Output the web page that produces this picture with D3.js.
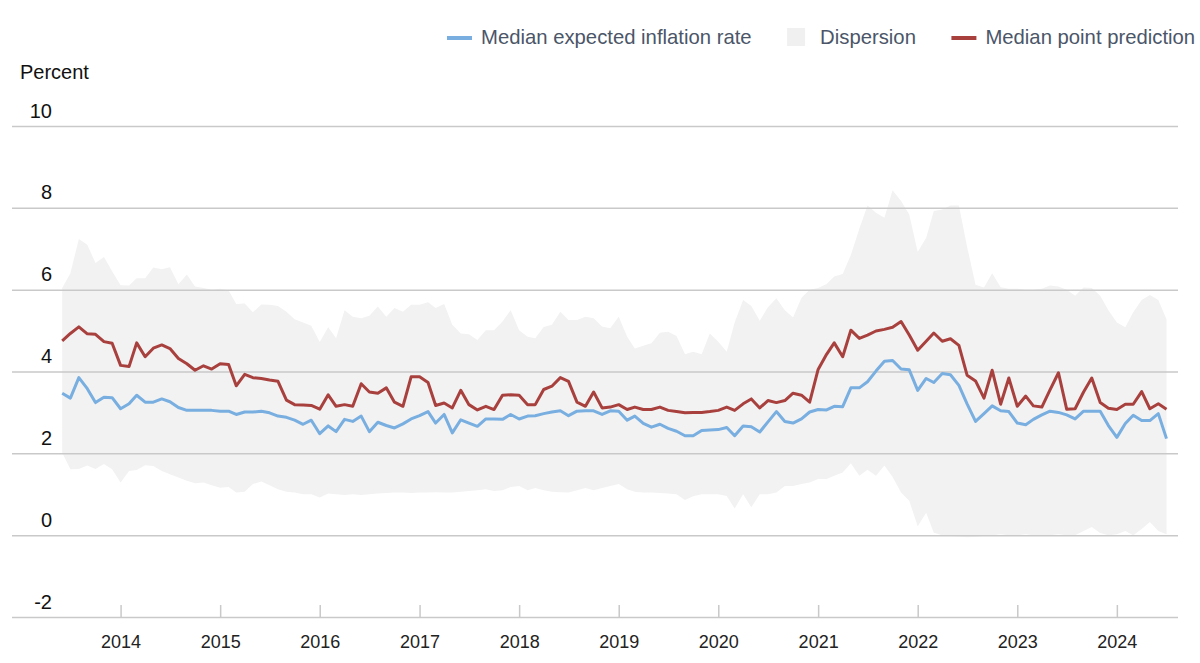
<!DOCTYPE html>
<html lang="en">
<head>
  <meta charset="UTF-8">
  <title>Median expected inflation rate and dispersion</title>
  <script src="https://d3js.org/d3.v7.min.js"></script>
  <style>
    body { margin: 0; background: #fff; }
    text { font-family: "Liberation Sans", Arial, Helvetica, sans-serif; }
  </style>
</head>
<body>
  <div id="chart"></div>
  <script>
    // Monthly observations, June 2013 to July 2024
    var firstMonth = "2013-06";
    var lastMonth = "2024-07";

    // Median expected inflation rate (blue line)
    var medianExpected = [
      3.47, 3.35, 3.85, 3.58, 3.24, 3.37, 3.36,
      3.09, 3.21, 3.42, 3.25, 3.25, 3.33, 3.26, 3.12, 3.05, 3.05, 3.05, 3.05,
      3.03, 3.03, 2.95, 3.01, 3.01, 3.03, 2.99, 2.91, 2.88, 2.81, 2.71, 2.81,
      2.48, 2.67, 2.53, 2.83, 2.78, 2.91, 2.53, 2.76, 2.68, 2.62, 2.72, 2.84,
      2.92, 3.02, 2.74, 2.95, 2.50, 2.82, 2.74, 2.66, 2.84, 2.84, 2.83, 2.95,
      2.84, 2.91, 2.92, 2.97, 3.01, 3.04, 2.92, 3.03, 3.04, 3.04, 2.95, 3.04,
      3.03, 2.81, 2.91, 2.73, 2.64, 2.71, 2.61, 2.54, 2.43, 2.43, 2.56, 2.57,
      2.58, 2.63, 2.43, 2.67, 2.65, 2.52, 2.77, 3.02, 2.78, 2.74, 2.84, 3.01,
      3.07, 3.06, 3.15, 3.14, 3.60, 3.60, 3.75, 4.01, 4.25, 4.27, 4.06, 4.04,
      3.54, 3.83, 3.73, 3.95, 3.92, 3.66, 3.21, 2.78, 2.97, 3.16, 3.04, 3.02,
      2.74, 2.70, 2.83, 2.94, 3.03, 3.00, 2.94, 2.84, 3.03, 3.03, 3.03, 2.68,
      2.39, 2.73, 2.93, 2.80, 2.80, 2.97, 2.36
    ];

    // Median point prediction (red line)
    var pointPrediction = [
      4.75, 4.93, 5.09, 4.92, 4.91, 4.73, 4.69,
      4.15, 4.12, 4.70, 4.36, 4.57, 4.65, 4.56, 4.32, 4.19, 4.03, 4.14, 4.06,
      4.19, 4.17, 3.65, 3.93, 3.85, 3.83, 3.79, 3.76, 3.30, 3.19, 3.18, 3.17,
      3.08, 3.43, 3.15, 3.19, 3.15, 3.70, 3.50, 3.47, 3.60, 3.25, 3.15, 3.87,
      3.87, 3.73, 3.17, 3.23, 3.11, 3.54, 3.19, 3.06, 3.15, 3.07, 3.42, 3.43,
      3.42, 3.19, 3.19, 3.56, 3.64, 3.85, 3.76, 3.25, 3.15, 3.50, 3.11, 3.13,
      3.19, 3.07, 3.13, 3.07, 3.07, 3.13, 3.05, 3.02, 2.99, 3.00, 3.00, 3.02,
      3.05, 3.13, 3.05, 3.21, 3.33, 3.11, 3.29, 3.24, 3.29, 3.47, 3.42, 3.25,
      4.05, 4.42, 4.70, 4.36, 5.01, 4.81, 4.89, 4.99, 5.03, 5.08, 5.22, 4.89,
      4.52, 4.74, 4.94, 4.74, 4.80, 4.64, 3.91, 3.77, 3.35, 4.03, 3.20, 3.84,
      3.15, 3.40, 3.16, 3.13, 3.55, 3.97, 3.08, 3.09, 3.50, 3.84, 3.24, 3.10,
      3.07, 3.20, 3.20, 3.51, 3.09, 3.21, 3.08
    ];

    // Dispersion band: lower and upper edges
    var dispersionLow = [
      2.02, 1.61, 1.62, 1.70, 1.62, 1.74, 1.61,
      1.29, 1.57, 1.59, 1.71, 1.69, 1.57, 1.49, 1.41, 1.33, 1.27, 1.29, 1.22,
      1.16, 1.18, 1.04, 1.06, 1.25, 1.31, 1.22, 1.12, 1.06, 1.04, 1.00, 1.00,
      0.92, 1.02, 1.00, 0.98, 1.00, 0.98, 1.00, 1.02, 1.03, 1.04, 1.04, 1.03,
      1.04, 1.04, 1.05, 1.04, 1.04, 1.06, 1.08, 1.10, 1.12, 1.08, 1.10, 1.18,
      1.20, 1.10, 1.15, 1.10, 1.06, 1.05, 1.04, 1.10, 1.15, 1.10, 1.15, 1.20,
      1.25, 1.12, 1.06, 1.04, 1.04, 1.03, 1.02, 1.00, 0.86, 0.95, 1.00, 1.00,
      1.00, 0.96, 0.65, 1.00, 0.68, 1.00, 1.00, 1.04, 1.20, 1.20, 1.25, 1.29,
      1.37, 1.37, 1.45, 1.53, 1.76, 1.45, 1.60, 1.45, 1.70, 1.42, 1.04, 0.84,
      0.22, 0.55, 0.06, 0.00, -0.02, -0.03, -0.05, -0.04, -0.02, 0.00, 0.02, 0.00,
      0.00, 0.02, 0.00, 0.00, 0.00, 0.02, 0.00, 0.00, 0.10, 0.20, 0.05, 0.00,
      0.02, 0.10, 0.00, 0.15, 0.32, 0.10, 0.02
    ];

    var dispersionHigh = [
      6.04, 6.40, 7.24, 7.10, 6.65, 6.80, 6.45,
      6.11, 6.10, 6.28, 6.28, 6.54, 6.50, 6.55, 6.13, 6.37, 6.08, 6.04, 6.00,
      6.02, 5.98, 5.65, 5.66, 5.45, 5.64, 5.63, 5.60, 5.46, 5.28, 5.20, 5.12,
      4.72, 5.08, 4.81, 5.50, 5.34, 5.30, 5.36, 5.59, 5.34, 5.55, 5.46, 5.63,
      5.63, 5.69, 5.55, 5.65, 5.14, 4.93, 4.91, 4.77, 5.01, 5.01, 5.22, 5.50,
      5.01, 4.85, 4.81, 5.09, 5.14, 5.46, 5.26, 5.26, 5.34, 5.30, 5.10, 5.06,
      5.34, 4.85, 4.56, 4.63, 4.69, 4.95, 4.97, 4.87, 4.42, 4.48, 4.42, 4.93,
      4.73, 4.48, 5.20, 5.75, 5.60, 5.24, 5.57, 5.79, 5.50, 5.32, 5.80, 6.00,
      6.04, 6.14, 6.32, 6.38, 6.85, 7.49, 8.06, 7.88, 7.76, 8.43, 8.17, 7.84,
      6.92, 7.27, 7.92, 7.96, 8.06, 8.06, 7.05, 6.12, 6.05, 6.40, 6.06, 6.02,
      6.02, 6.00, 6.00, 6.02, 6.10, 6.08, 6.00, 5.85, 6.05, 6.04, 5.85, 5.50,
      5.20, 5.08, 5.45, 5.75, 5.87, 5.75, 5.28
    ];

    var yTicks = [-2, 0, 2, 4, 6, 8, 10];
    var yearTicks = [2014, 2015, 2016, 2017, 2018, 2019, 2020, 2021, 2022, 2023, 2024];

    var legendItems = [
      {label: "Median expected inflation rate", kind: "line", color: "#78aee0"},
      {label: "Dispersion", kind: "box", color: "#f0f0f0"},
      {label: "Median point prediction", kind: "line", color: "#a8403e"}
    ];

    var width = 1200, height = 663;
    var gridLeft = 12, gridRight = 1178;

    var parseMonth = d3.timeParse("%Y-%m");
    var months = d3.timeMonth.range(parseMonth(firstMonth),
                                    d3.timeMonth.offset(parseMonth(lastMonth), 1));

    var data = months.map(function(m, i) {
      return {
        date: m,
        expected: medianExpected[i],
        point: pointPrediction[i],
        low: dispersionLow[i],
        high: dispersionHigh[i]
      };
    });

    var svg = d3.select("#chart")
      .append("svg")
        .attr("width", width)
        .attr("height", height);

    var x = d3.scaleTime()
        .domain([months[0], months[months.length - 1]])
        .range([62.2, 1166.5]);

    var y = d3.scaleLinear()
        .domain([-2, 10])
        .range([617, 126]);

    // Dispersion band
    var band = d3.area()
        .x(function(d) { return x(d.date); })
        .y0(function(d) { return y(d.low); })
        .y1(function(d) { return y(d.high); });

    svg.append("path")
        .datum(data)
        .attr("d", band)
        .attr("fill", "#f2f2f2");

    // Y grid and labels
    var yAxis = svg.append("g")
        .attr("transform", "translate(" + gridLeft + ",0)")
        .call(d3.axisLeft(y)
          .tickValues(yTicks)
          .tickSize(-(gridRight - gridLeft))
          .tickFormat(function(d) { return String(d); }));

    yAxis.select(".domain").remove();
    yAxis.selectAll(".tick line")
        .attr("stroke", "#c9c9c9")
        .attr("stroke-width", 1.5);
    yAxis.selectAll(".tick text")
        .attr("x", 40)
        .attr("dy", -9)
        .attr("text-anchor", "end")
        .attr("fill", "#111")
        .style("font-size", "20px");

    // X axis with inward ticks on the -2 line
    var xAxis = svg.append("g")
        .attr("transform", "translate(0," + y(-2) + ")")
        .call(d3.axisBottom(x)
          .tickValues(yearTicks.map(function(yr) { return new Date(yr, 0, 1); }))
          .tickFormat(d3.timeFormat("%Y"))
          .tickSizeInner(-12)
          .tickSizeOuter(0));

    xAxis.select(".domain").remove();
    xAxis.selectAll(".tick line")
        .attr("stroke", "#c9c9c9")
        .attr("stroke-width", 1.5);
    xAxis.selectAll(".tick text")
        .attr("y", 18)
        .attr("fill", "#222")
        .style("font-size", "18px");

    // Lines
    var lineExpected = d3.line()
        .x(function(d) { return x(d.date); })
        .y(function(d) { return y(d.expected); });

    var linePoint = d3.line()
        .x(function(d) { return x(d.date); })
        .y(function(d) { return y(d.point); });

    svg.append("path")
        .datum(data)
        .attr("d", lineExpected)
        .attr("fill", "none")
        .attr("stroke", legendItems[0].color)
        .attr("stroke-width", 3)
        .attr("stroke-linejoin", "round");

    svg.append("path")
        .datum(data)
        .attr("d", linePoint)
        .attr("fill", "none")
        .attr("stroke", legendItems[2].color)
        .attr("stroke-width", 3)
        .attr("stroke-linejoin", "round");

    // Axis title
    svg.append("text")
        .attr("x", 20)
        .attr("y", 79)
        .attr("fill", "#111")
        .style("font-size", "20px")
        .text("Percent");

    // Legend, laid out left to right
    var lx = 447;
    legendItems.forEach(function(item) {
      var g = svg.append("g");
      var textX;
      if (item.kind === "line") {
        g.append("line")
            .attr("x1", lx).attr("x2", lx + 25)
            .attr("y1", 38).attr("y2", 38)
            .attr("stroke", item.color)
            .attr("stroke-width", 4);
        textX = lx + 34;
      } else {
        g.append("rect")
            .attr("x", lx).attr("y", 28)
            .attr("width", 18).attr("height", 18)
            .attr("fill", item.color);
        textX = lx + 33;
      }
      var t = g.append("text")
          .attr("x", textX)
          .attr("y", 44)
          .attr("fill", "#4b5669")
          .style("font-size", "20.3px")
          .text(item.label);
      lx = textX + t.node().getComputedTextLength() + 35.5;
    });
  </script>
</body>
</html>
